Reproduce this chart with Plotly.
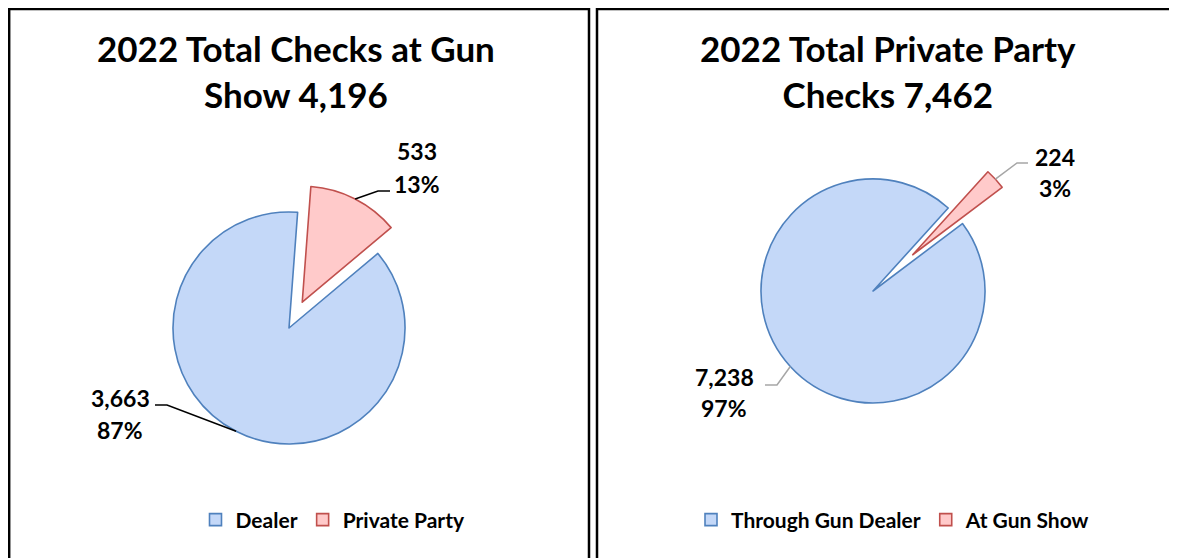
import math

import plotly.graph_objects as go

# the page body keeps an 8px margin, so the figure is drawn 8px in
OFF = 8
W, H = 1177 - OFF, 558 - OFF

# data
show_labels = ["Dealer", "Private Party"]
show_values = [3663, 533]
show_pct = ["87%", "13%"]
private_labels = ["Through Gun Dealer", "At Gun Show"]
private_values = [7238, 224]
private_pct = ["97%", "3%"]
titles = [
    "2022 Total Checks at Gun<br>Show 4,196",
    "2022 Total Private Party<br>Checks 7,462",
]

FONT = "Lato"
BLUE_FILL = "#c4d8f8"
BLUE_LINE = "#4f81bd"
RED_FILL = "#ffcaca"
RED_LINE = "#c0504d"


def px(x):
    return (x - OFF) / W


def py(y):
    return 1 - (y - OFF) / H


# pixel layout of each pie (center, radius) plus label placement
panels = [
    dict(
        labels=show_labels, values=show_values, pct=show_pct,
        cx=289, cy=328, r=116, pull=[0, 0.25], rotation=50,
        legend="legend", title=titles[0], title_x=296, leader="#000000",
        # (text x, value y, pct y, elbow x, elbow y, line end x)
        text=[(120, 398, 430, 167, 405, 155), (417, 151, 184, 378, 191, 390)],
    ),
    dict(
        labels=private_labels, values=private_values, pct=private_pct,
        cx=873, cy=291, r=112, pull=[0, 0.48], rotation=53,
        legend="legend2", title=titles[1], title_x=888, leader="#a6a6a6",
        text=[(724, 377, 408, 777, 385, 765), (1055, 157, 188, 1017, 163, 1028)],
    ),
]

fig = go.Figure()
annotations = []
shapes = []

for p in panels:
    box = 2 * p["r"] * (1 + max(p["pull"]))
    fig.add_trace(go.Pie(
        labels=p["labels"],
        values=p["values"],
        sort=False,
        direction="clockwise",
        rotation=p["rotation"],
        pull=p["pull"],
        textinfo="none",
        hoverinfo="label+value+percent",
        marker=dict(colors=[BLUE_FILL, RED_FILL],
                    line=dict(color=[BLUE_LINE, RED_LINE], width=1.6)),
        domain=dict(x=[px(p["cx"] - box / 2), px(p["cx"] + box / 2)],
                    y=[py(p["cy"] + box / 2), py(p["cy"] - box / 2)]),
        legend=p["legend"],
    ))

    annotations.append(dict(
        x=px(p["title_x"]), y=py(71), xref="paper", yref="paper",
        text=p["title"], showarrow=False, xanchor="center", yanchor="middle",
        font=dict(family=FONT, size=35, color="#000000", weight="bold"),
    ))

    total = sum(p["values"])
    cum = 0
    for i, v in enumerate(p["values"]):
        mid = math.radians(p["rotation"] + 360 * (cum + v / 2) / total)
        cum += v
        off = p["pull"][i] * p["r"]
        ax = p["cx"] + (off + p["r"]) * math.sin(mid)
        ay = p["cy"] - (off + p["r"]) * math.cos(mid)
        tx, vy, pcy, ex, ey, endx = p["text"][i]
        shapes.append(dict(
            type="path", xref="paper", yref="paper",
            path=f"M{px(ax)},{py(ay)} L{px(ex)},{py(ey)} L{px(endx)},{py(ey)}",
            line=dict(color=p["leader"], width=1.5),
        ))
        for txt, yy in ((f"{v:,}", vy), (p["pct"][i], pcy)):
            annotations.append(dict(
                x=px(tx), y=py(yy), xref="paper", yref="paper",
                text=txt, showarrow=False, xanchor="center", yanchor="middle",
                font=dict(family=FONT, size=23, color="#000000", weight="bold"),
            ))

# panel borders (left/top edges sit on the figure edge)
shapes.append(dict(type="rect", xref="paper", yref="paper",
                   x0=0.001, x1=px(589), y0=-0.05, y1=0.998,
                   line=dict(color="#000000", width=2.5)))
shapes.append(dict(type="rect", xref="paper", yref="paper",
                   x0=px(597), x1=1.05, y0=-0.05, y1=0.998,
                   line=dict(color="#000000", width=2.5)))

legend_style = dict(
    orientation="h", xanchor="center", yanchor="middle", y=py(520),
    font=dict(family=FONT, size=21, color="#000000", weight="bold"),
    bgcolor="rgba(0,0,0,0)",
)

fig.update_layout(
    width=W,
    height=H,
    margin=dict(l=0, r=0, t=0, b=0),
    paper_bgcolor="#ffffff",
    plot_bgcolor="#ffffff",
    annotations=annotations,
    shapes=shapes,
    legend=dict(x=px(333), **legend_style),
    legend2=dict(x=px(893), **legend_style),
)

fig.write_html("out.html")
